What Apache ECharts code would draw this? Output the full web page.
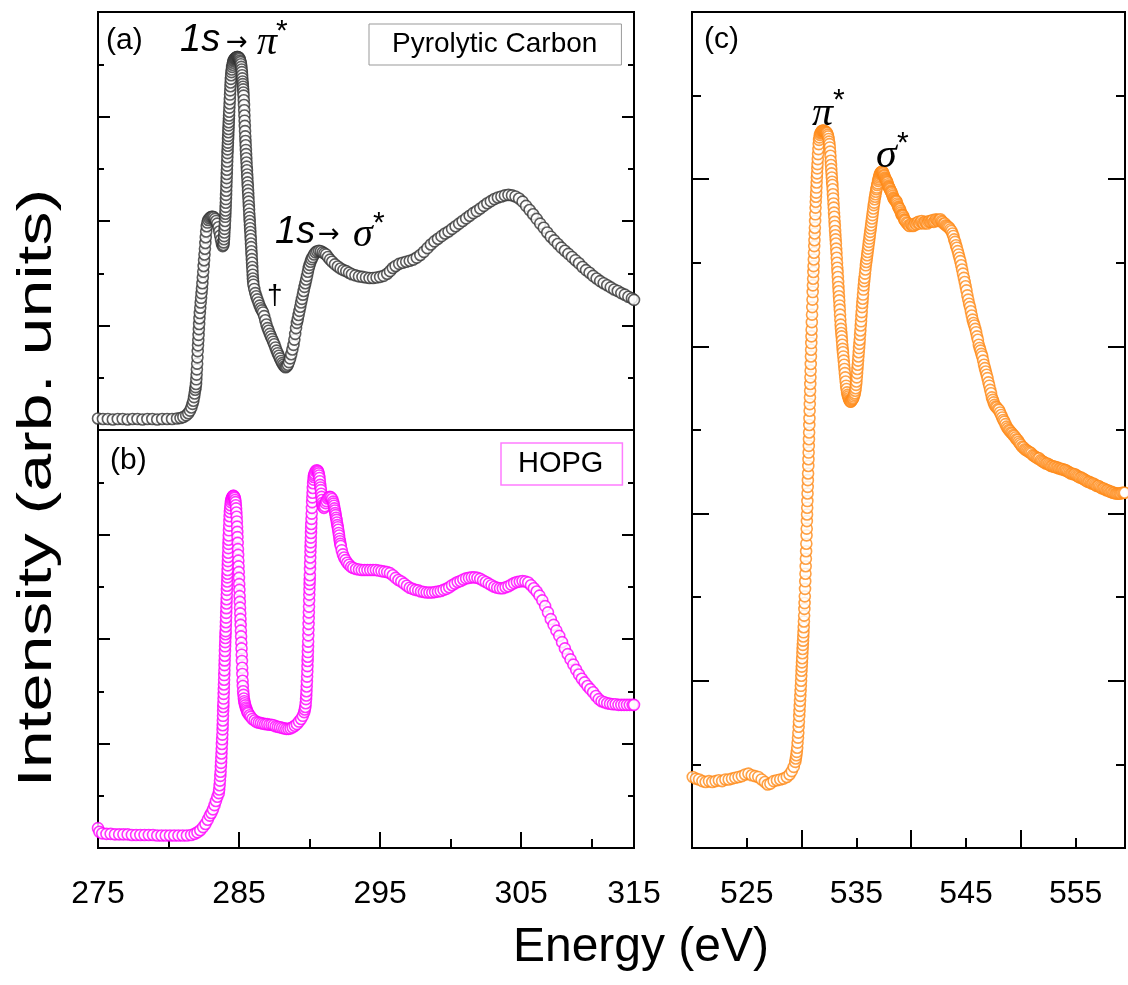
<!DOCTYPE html>
<html><head><meta charset="utf-8">
<script src="https://cdn.jsdelivr.net/npm/echarts@6/dist/echarts.min.js"></script>
<style>html,body{margin:0;padding:0;background:#fff}#c{width:1128px;height:985px}</style>
</head><body><div id="c"></div>
<script>
// ---- data: [energy (eV), intensity (arb. units)] ----
const pyrolyticCarbon = [
[275.00,0.22],[275.35,0.21],[275.70,0.21],[276.05,0.20],[276.40,0.21],[276.75,0.21],[277.10,0.20],[277.45,0.21],[277.80,0.21],[278.15,0.20],[278.50,0.21],[278.85,0.21],[279.20,0.20],[279.55,0.21],[279.90,0.21],[280.25,0.21],[280.60,0.22],[280.85,0.23],[281.05,0.25],[281.25,0.28],[281.40,0.32],[281.52,0.37],[281.62,0.43],[281.70,0.50],
[281.76,0.56],[281.81,0.63],[281.85,0.70],[281.89,0.77],[281.92,0.82],[281.95,0.88],[281.97,0.97],[281.99,1.06],[282.01,1.16],[282.03,1.27],[282.05,1.39],[282.07,1.51],[282.09,1.62],[282.11,1.72],[282.13,1.82],[282.15,1.93],[282.17,2.03],[282.19,2.14],[282.22,2.24],[282.25,2.34],[282.28,2.44],[282.31,2.53],[282.34,2.62],[282.37,2.71],[282.40,2.81],[282.43,2.92],[282.46,3.03],[282.49,3.14],[282.52,3.25],[282.55,3.36],[282.58,3.47],[282.61,3.58],[282.64,3.69],[282.67,3.80],[282.71,3.90],[282.76,3.97],[282.82,4.02],[282.90,4.05],[282.98,4.07],[283.06,4.08],[283.14,4.08],[283.22,4.07],[283.30,4.04],[283.38,4.00],[283.46,3.95],[283.54,3.88],[283.60,3.80],[283.66,3.72],[283.72,3.64],[283.78,3.57],[283.84,3.52],[283.89,3.54],
[283.91,3.59],[283.93,3.65],[283.945,3.71],[283.96,3.78],[283.975,3.85],[283.99,3.92],[284.005,4.00],[284.02,4.08],[284.03,4.14],[284.04,4.20],[284.05,4.27],[284.06,4.35],[284.07,4.42],[284.08,4.50],[284.09,4.58],[284.10,4.66],[284.11,4.74],[284.12,4.82],[284.13,4.90],[284.14,4.98],[284.15,5.06],[284.16,5.14],[284.17,5.22],[284.18,5.30],[284.19,5.37],[284.20,5.44],[284.21,5.50],[284.22,5.57],[284.23,5.63],[284.24,5.70],[284.25,5.76],[284.26,5.83],[284.27,5.89],[284.28,5.96],[284.29,6.02],[284.30,6.09],[284.315,6.17],[284.33,6.25],[284.345,6.33],[284.36,6.42],[284.375,6.50],[284.39,6.58],[284.405,6.65],[284.42,6.72],[284.44,6.79],[284.46,6.85],[284.485,6.90],[284.51,6.95],[284.54,6.99],[284.57,7.03],[284.60,7.06],[284.64,7.08],[284.68,7.10],[284.72,7.11],[284.76,7.12],[284.80,7.13],[284.84,7.14],[284.88,7.14],[284.92,7.14],[284.96,7.13],[285.00,7.12],[285.04,7.10],[285.075,7.07],[285.11,7.04],
[285.135,7.00],[285.16,6.95],[285.18,6.90],[285.20,6.85],[285.215,6.79],[285.23,6.73],[285.245,6.67],[285.26,6.62],[285.275,6.57],[285.29,6.52],[285.305,6.46],[285.32,6.40],[285.335,6.31],[285.35,6.22],[285.365,6.12],[285.38,6.02],[285.395,5.92],[285.41,5.82],[285.425,5.72],[285.44,5.62],[285.455,5.53],[285.47,5.45],[285.485,5.36],[285.50,5.28],[285.515,5.20],[285.53,5.12],[285.545,5.04],[285.56,4.97],[285.575,4.89],[285.59,4.82],[285.605,4.74],[285.62,4.67],[285.635,4.59],[285.65,4.52],[285.665,4.44],[285.68,4.37],[285.695,4.29],[285.71,4.22],[285.725,4.14],[285.74,4.07],[285.755,4.00],[285.77,3.93],[285.785,3.86],[285.80,3.79],[285.815,3.72],[285.83,3.65],[285.845,3.57],[285.86,3.50],[285.875,3.42],[285.89,3.35],[285.905,3.27],[285.92,3.20],[285.935,3.12],[285.95,3.05],[285.965,2.97],[285.98,2.90],[286.00,2.84],[286.02,2.78],[286.08,2.70],[286.15,2.62],[286.22,2.56],[286.30,2.50],[286.38,2.44],[286.46,2.38],[286.54,2.33],[286.62,2.29],[286.70,2.25],[286.78,2.18],[286.86,2.10],[286.94,2.02],[287.02,1.95],[287.10,1.90],[287.18,1.84],[287.26,1.79],[287.34,1.74],[287.42,1.69],[287.50,1.64],[287.58,1.58],[287.66,1.52],[287.74,1.47],[287.82,1.42],[287.90,1.37],[287.98,1.32],[288.06,1.28],[288.14,1.25],[288.22,1.22],[288.30,1.20],[288.38,1.22],[288.46,1.25],[288.54,1.30],[288.62,1.37],[288.70,1.45],[288.78,1.54],[288.86,1.63],[288.92,1.73],[288.98,1.84],[289.04,1.95],[289.10,2.05],[289.16,2.12],[289.22,2.20],[289.28,2.28],[289.34,2.36],[289.40,2.44],[289.46,2.51],[289.52,2.59],[289.58,2.66],[289.64,2.74],[289.70,2.81],[289.76,2.88],[289.82,2.95],[289.88,3.03],[289.94,3.10],[290.00,3.16],[290.07,3.22],[290.14,3.27],[290.22,3.31],[290.32,3.36],[290.42,3.40],[290.54,3.42],[290.67,3.43],[290.80,3.42],[290.93,3.40],[291.05,3.38],[291.17,3.36],[291.30,3.31],[291.45,3.26],[291.60,3.22],[291.80,3.17],[292.00,3.13],[292.20,3.09],[292.40,3.06],[292.60,3.04],[292.80,3.01],[293.00,2.98],[293.25,2.96],[293.50,2.94],[293.75,2.93],[294.00,2.92],[294.25,2.91],[294.50,2.91],[294.75,2.92],[295.00,2.93],[295.25,2.95],[295.50,2.99],[295.70,3.04],[295.90,3.10],[296.10,3.14],[296.35,3.18],[296.60,3.20],[296.85,3.22],[297.10,3.24],[297.35,3.26],[297.60,3.30],[297.85,3.35],[298.10,3.41],[298.35,3.48],[298.60,3.55],[298.85,3.61],[299.10,3.66],[299.35,3.71],[299.60,3.76],[299.85,3.80],[300.10,3.85],[300.35,3.90],[300.60,3.95],[300.85,4.00],[301.10,4.05],[301.35,4.10],[301.60,4.15],[301.85,4.19],[302.10,4.24],[302.35,4.29],[302.60,4.34],[302.85,4.38],[303.10,4.42],[303.35,4.45],[303.60,4.47],[303.85,4.49],[304.10,4.50],[304.35,4.49],[304.60,4.47],[304.85,4.43],[305.10,4.37],[305.35,4.29],[305.60,4.21],[305.85,4.13],[306.10,4.04],[306.35,3.95],[306.60,3.87],[306.85,3.78],[307.10,3.70],[307.35,3.63],[307.60,3.56],[307.85,3.49],[308.10,3.43],[308.35,3.37],[308.60,3.31],[308.85,3.25],[309.10,3.19],[309.35,3.12],[309.60,3.06],[309.85,3.01],[310.10,2.95],[310.35,2.90],[310.60,2.85],[310.85,2.81],[311.10,2.77],[311.35,2.73],[311.60,2.69],[311.85,2.66],[312.10,2.62],[312.35,2.59],[312.60,2.55],[312.85,2.52],[313.00,2.49]
];
const hopg = [
[275.00,0.38],[275.10,0.31],[275.30,0.28],[275.60,0.27],[275.90,0.27],[276.20,0.26],[276.50,0.26],[276.80,0.26],[277.10,0.26],[277.40,0.25],[277.70,0.25],[278.00,0.25],[278.30,0.25],[278.60,0.25],[278.90,0.25],[279.20,0.24],[279.50,0.24],[279.80,0.24],[280.10,0.24],[280.40,0.24],[280.70,0.24],[281.00,0.24],[281.30,0.24],[281.60,0.25],[281.85,0.27],[282.05,0.30],[282.25,0.34],[282.45,0.40],[282.62,0.46],[282.78,0.54],[282.92,0.62],[283.04,0.67],[283.15,0.74],[283.26,0.82],[283.36,0.90],[283.46,0.98],[283.56,1.05],
[283.59,1.12],[283.62,1.20],[283.645,1.29],[283.67,1.38],[283.69,1.46],[283.71,1.55],[283.725,1.63],[283.74,1.72],[283.755,1.81],[283.77,1.90],[283.785,1.99],[283.80,2.08],[283.815,2.17],[283.83,2.27],[283.84,2.35],[283.85,2.44],[283.86,2.53],[283.87,2.62],[283.88,2.70],[283.89,2.77],[283.90,2.86],[283.91,2.95],[283.92,3.04],[283.93,3.13],[283.94,3.22],[283.95,3.31],[283.96,3.40],[283.97,3.50],[283.98,3.59],[283.99,3.68],[284.00,3.77],[284.01,3.86],[284.02,3.94],[284.03,4.02],[284.04,4.09],[284.05,4.15],[284.06,4.24],[284.07,4.32],[284.08,4.41],[284.09,4.50],[284.10,4.59],[284.11,4.68],[284.12,4.76],[284.13,4.85],[284.14,4.94],[284.15,5.02],[284.16,5.10],[284.17,5.18],[284.18,5.25],[284.19,5.32],[284.20,5.41],[284.21,5.49],[284.22,5.57],[284.23,5.65],[284.24,5.74],[284.25,5.82],[284.26,5.90],[284.27,5.98],[284.285,6.08],[284.30,6.17],[284.315,6.26],[284.33,6.35],[284.35,6.43],[284.37,6.50],[284.395,6.56],[284.42,6.62],[284.45,6.66],[284.48,6.69],[284.515,6.71],[284.55,6.73],[284.585,6.74],[284.62,6.74],[284.655,6.72],[284.69,6.70],[284.72,6.66],[284.75,6.62],
[284.77,6.56],[284.79,6.50],[284.81,6.42],[284.83,6.34],[284.845,6.25],[284.86,6.15],[284.875,6.05],[284.89,5.95],[284.905,5.84],[284.92,5.72],[284.935,5.61],[284.95,5.50],[284.965,5.39],[284.98,5.28],[284.995,5.17],[285.01,5.05],[285.025,4.94],[285.04,4.82],[285.055,4.71],[285.07,4.60],[285.085,4.49],[285.10,4.38],[285.115,4.27],[285.13,4.16],[285.145,4.05],[285.16,3.93],[285.175,3.82],[285.19,3.70],[285.205,3.58],[285.22,3.45],[285.235,3.33],[285.25,3.20],[285.27,3.10],[285.29,3.00],[285.315,2.93],[285.34,2.86],[285.37,2.81],[285.40,2.77],[285.44,2.73],[285.48,2.69],[285.52,2.66],[285.56,2.63],[285.60,2.60],[285.65,2.58],[285.74,2.54],[285.83,2.51],[285.95,2.47],[286.10,2.44],[286.25,2.41],[286.40,2.40],[286.55,2.39],[286.70,2.38],[286.85,2.37],[287.00,2.37],[287.15,2.36],[287.30,2.36],[287.45,2.35],[287.60,2.33],[287.75,2.32],[287.90,2.31],[288.05,2.30],[288.20,2.29],[288.35,2.28],[288.50,2.28],[288.65,2.29],[288.80,2.31],[288.95,2.34],[289.10,2.37],[289.25,2.42],[289.40,2.47],[289.52,2.53],[289.62,2.60],[289.66,2.65],[289.70,2.70],
[289.725,2.77],[289.75,2.85],[289.765,2.92],[289.78,3.00],[289.795,3.09],[289.81,3.18],[289.825,3.28],[289.84,3.38],[289.85,3.48],[289.86,3.58],[289.87,3.66],[289.88,3.75],[289.89,3.85],[289.90,3.95],[289.91,4.07],[289.92,4.18],[289.93,4.29],[289.94,4.40],[289.95,4.51],[289.96,4.62],[289.97,4.74],[289.98,4.85],[289.99,4.95],[290.00,5.05],[290.01,5.13],[290.02,5.22],[290.03,5.34],[290.04,5.45],[290.05,5.56],[290.06,5.67],[290.07,5.76],[290.08,5.85],[290.09,5.94],[290.10,6.03],[290.11,6.12],[290.12,6.20],[290.135,6.30],[290.15,6.40],[290.165,6.51],[290.18,6.62],[290.195,6.71],[290.21,6.80],[290.23,6.89],[290.25,6.98],[290.275,7.05],[290.30,7.10],[290.33,7.14],[290.36,7.17],[290.43,7.21],[290.50,7.23],[290.57,7.22],[290.61,7.20],[290.64,7.17],[290.67,7.13],[290.70,7.08],[290.725,7.02],[290.75,6.95],[290.775,6.90],[290.80,6.85],[290.825,6.78],[290.85,6.72],[290.875,6.66],[290.90,6.60],[290.93,6.56],[290.96,6.53],[291.02,6.51],[291.08,6.54],[291.14,6.60],[291.20,6.64],[291.28,6.69],[291.36,6.71],[291.44,6.72],[291.52,6.71],[291.60,6.68],[291.67,6.63],[291.70,6.59],[291.73,6.55],[291.76,6.50],[291.79,6.46],[291.82,6.41],[291.85,6.37],[291.88,6.32],[291.91,6.28],[291.94,6.23],[291.97,6.18],[292.00,6.14],[292.03,6.09],[292.06,6.03],[292.09,5.98],[292.12,5.92],[292.15,5.87],[292.18,5.82],[292.21,5.78],[292.28,5.70],[292.36,5.62],[292.45,5.56],[292.55,5.51],[292.67,5.46],[292.80,5.42],[292.95,5.38],[293.10,5.36],[293.30,5.34],[293.50,5.33],[293.70,5.32],[293.90,5.32],[294.10,5.32],[294.30,5.32],[294.50,5.32],[294.70,5.32],[294.90,5.31],[295.10,5.30],[295.30,5.29],[295.50,5.28],[295.70,5.26],[295.90,5.22],[296.10,5.17],[296.30,5.13],[296.50,5.10],[296.70,5.06],[296.90,5.02],[297.10,4.98],[297.30,4.96],[297.50,4.94],[297.70,4.93],[297.90,4.91],[298.10,4.90],[298.30,4.89],[298.50,4.89],[298.70,4.89],[298.90,4.90],[299.10,4.91],[299.30,4.92],[299.50,4.94],[299.70,4.96],[299.90,4.99],[300.10,5.03],[300.30,5.06],[300.50,5.09],[300.70,5.11],[300.90,5.14],[301.10,5.16],[301.30,5.17],[301.50,5.18],[301.70,5.18],[301.90,5.17],[302.10,5.15],[302.30,5.12],[302.50,5.09],[302.70,5.06],[302.90,5.03],[303.10,5.00],[303.30,4.98],[303.50,4.97],[303.70,4.97],[303.90,4.99],[304.10,5.01],[304.30,5.04],[304.50,5.07],[304.70,5.09],[304.90,5.10],[305.10,5.11],[305.30,5.10],[305.50,5.08],[305.70,5.03],[305.90,4.97],[306.10,4.91],[306.30,4.83],[306.50,4.74],[306.70,4.63],[306.90,4.51],[307.10,4.38],[307.30,4.27],[307.50,4.16],[307.70,4.06],[307.90,3.94],[308.10,3.82],[308.30,3.71],[308.50,3.61],[308.70,3.51],[308.90,3.41],[309.10,3.32],[309.30,3.24],[309.50,3.17],[309.70,3.10],[309.90,3.04],[310.10,2.98],[310.30,2.91],[310.50,2.85],[310.70,2.81],[310.90,2.79],[311.10,2.77],[311.30,2.76],[311.50,2.75],[311.70,2.75],[311.90,2.74],[312.10,2.74],[312.30,2.74],[312.50,2.74],[312.70,2.74],[312.90,2.74],[313.00,2.74]
];
const oxygenK = [
[520.07,0.85],[520.35,0.83],[520.65,0.82],[520.95,0.80],[521.25,0.79],[521.55,0.80],[521.85,0.79],[522.15,0.80],[522.45,0.81],[522.75,0.80],[523.05,0.82],[523.35,0.82],[523.65,0.83],[523.95,0.84],[524.25,0.85],[524.55,0.86],[524.85,0.88],[525.15,0.89],[525.45,0.87],[525.75,0.86],[526.05,0.85],[526.35,0.82],[526.65,0.79],[526.90,0.76],[527.15,0.77],[527.45,0.80],[527.75,0.81],[528.05,0.82],[528.35,0.83],[528.65,0.85],[528.90,0.88],[529.10,0.92],[529.28,0.97],
[529.42,1.03],[529.47,1.07],[529.52,1.11],[529.56,1.15],[529.60,1.20],[529.63,1.26],[529.67,1.32],[529.70,1.38],[529.73,1.45],[529.755,1.51],[529.78,1.58],[529.805,1.64],[529.83,1.70],[529.855,1.76],[529.88,1.82],[529.905,1.88],[529.93,1.94],[529.95,2.00],[529.97,2.06],[529.99,2.12],[530.01,2.17],[530.03,2.22],[530.05,2.27],[530.07,2.33],[530.09,2.38],[530.11,2.43],[530.13,2.48],[530.15,2.53],[530.17,2.58],[530.19,2.64],[530.21,2.71],[530.23,2.78],[530.25,2.86],[530.27,2.93],[530.29,3.01],[530.31,3.10],[530.33,3.19],[530.35,3.28],[530.37,3.37],[530.39,3.46],[530.41,3.55],[530.43,3.64],[530.45,3.74],[530.465,3.82],[530.48,3.91],[530.495,3.99],[530.51,4.07],[530.525,4.15],[530.54,4.24],[530.555,4.32],[530.57,4.40],[530.59,4.48],[530.61,4.57],[530.625,4.65],[530.64,4.73],[530.655,4.81],[530.67,4.89],[530.685,4.97],[530.70,5.06],[530.715,5.14],[530.73,5.23],[530.745,5.31],[530.76,5.39],[530.775,5.47],[530.79,5.55],[530.805,5.63],[530.82,5.71],[530.835,5.79],[530.85,5.88],[530.865,5.96],[530.88,6.04],[530.895,6.12],[530.91,6.20],[530.93,6.29],[530.95,6.38],[530.97,6.47],[530.99,6.56],[531.01,6.65],[531.03,6.73],[531.05,6.81],[531.07,6.89],[531.09,6.96],[531.11,7.04],[531.13,7.12],[531.15,7.20],[531.17,7.27],[531.19,7.35],[531.21,7.42],[531.23,7.50],[531.25,7.58],[531.27,7.66],[531.29,7.73],[531.31,7.79],[531.33,7.84],[531.35,7.90],[531.37,7.96],[531.39,8.02],[531.41,8.07],[531.43,8.13],[531.45,8.18],[531.475,8.24],[531.50,8.30],[531.53,8.36],[531.56,8.42],[531.595,8.47],[531.63,8.50],[531.67,8.53],[531.72,8.55],[531.77,8.56],[531.82,8.57],[531.87,8.58],[531.92,8.58],[531.97,8.58],[532.02,8.58],[532.07,8.58],[532.12,8.57],[532.17,8.57],[532.22,8.56],[532.27,8.56],[532.32,8.55],[532.37,8.53],[532.42,8.51],
[532.46,8.48],[532.50,8.45],[532.535,8.42],[532.57,8.38],[532.60,8.33],[532.63,8.28],[532.655,8.22],[532.68,8.17],[532.705,8.12],[532.73,8.07],[532.755,8.02],[532.78,7.97],[532.805,7.93],[532.83,7.88],[532.855,7.82],[532.88,7.77],[532.905,7.71],[532.93,7.66],[532.955,7.60],[532.98,7.55],[533.005,7.49],[533.03,7.44],[533.055,7.38],[533.08,7.33],[533.105,7.28],[533.13,7.23],[533.155,7.17],[533.18,7.12],[533.205,7.06],[533.23,7.00],[533.255,6.94],[533.28,6.89],[533.305,6.83],[533.33,6.77],[533.355,6.71],[533.38,6.66],[533.405,6.60],[533.43,6.55],[533.455,6.49],[533.48,6.44],[533.505,6.38],[533.53,6.32],[533.56,6.26],[533.59,6.21],[533.62,6.16],[533.65,6.12],[533.68,6.07],[533.71,6.02],[533.74,5.97],[533.77,5.93],[533.805,5.88],[533.84,5.83],[533.875,5.78],[533.91,5.73],[533.945,5.68],[533.98,5.63],[534.02,5.58],[534.06,5.53],[534.10,5.49],[534.15,5.45],[534.20,5.42],[534.25,5.40],[534.30,5.38],[534.35,5.36],[534.40,5.35],[534.45,5.34],[534.50,5.34],[534.55,5.35],[534.60,5.36],[534.65,5.37],[534.70,5.38],[534.75,5.40],[534.80,5.42],[534.85,5.44],
[534.89,5.47],[534.93,5.50],[534.965,5.54],[535.00,5.58],[535.03,5.63],[535.06,5.68],[535.09,5.73],[535.12,5.78],[535.15,5.83],[535.18,5.88],[535.21,5.93],[535.24,5.98],[535.27,6.03],[535.30,6.08],[535.33,6.14],[535.36,6.19],[535.39,6.25],[535.42,6.30],[535.45,6.36],[535.48,6.41],[535.51,6.47],[535.54,6.52],[535.57,6.57],[535.60,6.62],[535.635,6.68],[535.67,6.73],[535.705,6.78],[535.74,6.82],[535.78,6.87],[535.82,6.92],[535.86,6.97],[535.90,7.01],[535.94,7.05],[535.98,7.09],[536.02,7.13],[536.06,7.17],[536.10,7.21],[536.14,7.25],[536.18,7.29],[536.22,7.33],[536.26,7.37],[536.30,7.41],[536.34,7.45],[536.38,7.49],[536.42,7.53],[536.46,7.57],[536.50,7.61],[536.54,7.65],[536.58,7.69],[536.62,7.72],[536.66,7.76],[536.70,7.79],[536.74,7.82],[536.78,7.85],[536.82,7.88],[536.86,7.90],[536.90,7.93],[536.94,7.95],[536.98,7.98],[537.02,8.00],[537.06,8.02],[537.10,8.04],[537.14,8.06],[537.18,8.07],[537.22,8.08],[537.26,8.08],[537.30,8.09],[537.34,8.09],[537.38,8.09],[537.42,8.08],[537.46,8.07],[537.50,8.05],[537.54,8.04],[537.58,8.02],[537.62,8.01],[537.66,8.00],[537.70,7.99],[537.74,7.98],[537.78,7.97],[537.82,7.96],[537.86,7.94],[537.90,7.92],[537.94,7.91],[537.98,7.90],[538.02,7.89],[538.06,7.88],[538.11,7.86],[538.16,7.85],[538.21,7.84],[538.26,7.82],[538.31,7.80],[538.36,7.78],[538.41,7.77],[538.46,7.76],[538.51,7.75],[538.56,7.74],[538.61,7.74],[538.66,7.73],[538.71,7.71],[538.76,7.69],[538.81,7.67],[538.86,7.66],[538.91,7.65],[538.96,7.64],[539.01,7.62],[539.06,7.60],[539.11,7.58],[539.16,7.57],[539.21,7.57],[539.26,7.56],[539.31,7.54],[539.36,7.52],[539.41,7.51],[539.46,7.50],[539.56,7.48],[539.66,7.47],[539.76,7.45],[539.86,7.44],[539.96,7.46],[540.06,7.45],[540.16,7.44],[540.26,7.45],[540.36,7.47],[540.46,7.46],[540.56,7.48],[540.66,7.49],[540.76,7.47],[540.86,7.49],[540.96,7.50],[541.06,7.48],[541.16,7.47],[541.26,7.49],[541.36,7.48],[541.46,7.47],[541.56,7.49],[541.66,7.50],[541.76,7.49],[541.86,7.50],[541.96,7.51],[542.06,7.49],[542.16,7.50],[542.26,7.52],[542.36,7.51],[542.46,7.50],[542.56,7.51],[542.66,7.52],[542.76,7.50],[542.86,7.49],[542.96,7.47],[543.06,7.47],[543.16,7.45],[543.26,7.44],[543.36,7.43],[543.46,7.42],[543.56,7.40],[543.66,7.38],[543.76,7.35],[543.84,7.32],[543.92,7.28],[544.00,7.25],[544.08,7.21],[544.16,7.18],[544.24,7.14],[544.32,7.10],[544.40,7.06],[544.48,7.02],[544.56,6.97],[544.64,6.92],[544.72,6.87],[544.80,6.82],[544.88,6.77],[544.96,6.72],[545.04,6.67],[545.12,6.61],[545.20,6.56],[545.28,6.51],[545.36,6.47],[545.44,6.42],[545.52,6.37],[545.60,6.32],[545.68,6.28],[545.76,6.25],[545.84,6.21],[545.92,6.17],[546.00,6.12],[546.08,6.08],[546.16,6.02],[546.24,5.98],[546.32,5.95],[546.40,5.91],[546.48,5.88],[546.56,5.83],[546.64,5.78],[546.72,5.74],[546.80,5.70],[546.88,5.66],[546.96,5.62],[547.04,5.57],[547.12,5.53],[547.20,5.48],[547.28,5.44],[547.36,5.39],[547.44,5.36],[547.52,5.33],[547.60,5.30],[547.70,5.28],[547.80,5.27],[547.90,5.25],[548.00,5.24],[548.10,5.21],[548.20,5.18],[548.30,5.15],[548.40,5.12],[548.50,5.10],[548.60,5.07],[548.70,5.04],[548.80,5.02],[548.90,5.00],[549.00,4.99],[549.10,4.97],[549.20,4.96],[549.30,4.94],[549.40,4.93],[549.50,4.91],[549.60,4.89],[549.70,4.88],[549.80,4.86],[549.90,4.84],[550.00,4.82],[550.12,4.80],[550.24,4.79],[550.36,4.77],[550.48,4.76],[550.60,4.75],[550.72,4.74],[550.84,4.73],[550.96,4.72],[551.08,4.70],[551.20,4.69],[551.32,4.68],[551.44,4.67],[551.56,4.66],[551.68,4.66],[551.80,4.64],[551.92,4.63],[552.04,4.62],[552.16,4.61],[552.28,4.60],[552.40,4.60],[552.52,4.59],[552.64,4.58],[552.76,4.57],[552.88,4.57],[553.00,4.56],[553.12,4.56],[553.24,4.55],[553.36,4.55],[553.48,4.54],[553.60,4.54],[553.72,4.53],[553.84,4.53],[553.96,4.52],[554.08,4.52],[554.20,4.51],[554.32,4.50],[554.44,4.49],[554.56,4.48],[554.68,4.48],[554.80,4.47],[554.92,4.47],[555.04,4.46],[555.16,4.45],[555.28,4.44],[555.40,4.43],[555.52,4.43],[555.64,4.42],[555.76,4.41],[555.88,4.40],[556.00,4.39],[556.12,4.38],[556.24,4.38],[556.36,4.37],[556.48,4.36],[556.60,4.36],[556.72,4.35],[556.84,4.34],[556.96,4.33],[557.08,4.33],[557.20,4.32],[557.32,4.31],[557.44,4.30],[557.56,4.30],[557.68,4.29],[557.80,4.28],[557.92,4.28],[558.04,4.27],[558.16,4.26],[558.28,4.26],[558.40,4.25],[558.52,4.25],[558.64,4.24],[558.76,4.24],[558.88,4.24],[559.00,4.24],[559.12,4.24],[559.24,4.25],[559.36,4.25],[559.48,4.25]
];
// tick labels
const carbonTickLabels = [275, 285, 295, 305];
const carbonEndLabel = '315';
const oxygenTickLabels = [525, 535, 545, 555];

const BLACK = '#000';
const sans = "'Liberation Sans', Arial, sans-serif";
const serif = "'Liberation Serif', 'Times New Roman', serif";

function yAx(gridIndex, position, max, majorLen, minorLen) {
  return { type: 'value', gridIndex, position, min: 0, max, interval: 2,
    axisLine: { show: false }, axisLabel: { show: false }, splitLine: { show: false },
    axisTick: { show: true, inside: true, length: majorLen, lineStyle: { color: BLACK, width: 2 } },
    minorTick: { show: true, splitNumber: 2, length: minorLen, lineStyle: { color: BLACK, width: 2 } } };
}
function xAx(gridIndex, min, max, interval, len, label) {
  return { type: 'value', gridIndex, position: 'bottom', min, max, interval,
    axisLine: { show: false }, splitLine: { show: false },
    axisTick: { show: true, inside: true, length: len, lineStyle: { color: BLACK, width: 2 } },
    axisLabel: label ? Object.assign({ show: true, color: BLACK, fontFamily: sans, fontSize: 32, margin: 30 }, label) : { show: false } };
}
function txt(x, y, text, size, family, style, extra) {
  return Object.assign({ type: 'text', x, y, z: 100,
    style: { text, fontSize: size, fontFamily: family, fontStyle: style || 'normal', fill: BLACK, align: 'left', verticalAlign: 'middle' } }, extra || {});
}

const gridStyle = { show: true, borderColor: BLACK, borderWidth: 2, backgroundColor: 'transparent' };
const chart = echarts.init(document.getElementById('c'));
chart.setOption({
  animation: false,
  backgroundColor: '#fff',
  grid: [
    Object.assign({ left: 98, top: 12, width: 536, height: 418 }, gridStyle),
    Object.assign({ left: 98, top: 430, width: 536, height: 418 }, gridStyle),
    Object.assign({ left: 692, top: 12, width: 435, height: 836 }, gridStyle)
  ],
  xAxis: [
    { type: 'value', gridIndex: 0, min: 275, max: 313, show: false },
    xAx(1, 275, 313, 5, 9, null),
    Object.assign(xAx(1, 275, 313, 10, 16, { formatter: v => carbonTickLabels.includes(v) ? String(v) : '' }), {
      name: carbonEndLabel, nameLocation: 'end', nameGap: 0,
      nameTextStyle: { color: BLACK, fontFamily: sans, fontSize: 32, align: 'center', verticalAlign: 'top', padding: [30, 0, 0, 0] } }),
    xAx(2, 520, 559.5, 5, 10, { formatter: v => oxygenTickLabels.includes(v) ? String(v) : '' }),
    xAx(2, 520, 559.5, 10, 18, null)
  ],
  yAxis: [
    yAx(0, 'left', 8, 12, 6), yAx(0, 'right', 8, 12, 6),
    yAx(1, 'left', 8, 12, 6), yAx(1, 'right', 8, 12, 6),
    yAx(2, 'left', 10, 17, 9), yAx(2, 'right', 10, 17, 9)
  ],
  legend: [
    { data: ['Pyrolytic Carbon'], left: 369, top: 24, icon: 'none', itemWidth: 0, itemHeight: 0, selectedMode: false,
      borderColor: '#999', borderWidth: 1, padding: [6, 24, 7, 18],
      textStyle: { fontSize: 28, fontFamily: sans, color: BLACK } },
    { data: ['HOPG'], left: 501, top: 443, icon: 'none', itemWidth: 0, itemHeight: 0, selectedMode: false,
      borderColor: '#ff7cff', borderWidth: 1.5, padding: [6, 19, 7, 12],
      textStyle: { fontSize: 29, fontFamily: sans, color: BLACK } }
  ],
  series: [
    { type: 'scatter', name: 'Pyrolytic Carbon', xAxisIndex: 0, yAxisIndex: 0, data: pyrolyticCarbon,
      symbol: 'circle', symbolSize: 11, itemStyle: { color: '#fff', borderColor: '#333', borderWidth: 1.6 } },
    { type: 'scatter', name: 'HOPG', xAxisIndex: 1, yAxisIndex: 2, data: hopg,
      symbol: 'circle', symbolSize: 11, itemStyle: { color: '#fff', borderColor: '#ff00ff', borderWidth: 1.6 } },
    { type: 'scatter', name: 'O K-edge', xAxisIndex: 3, yAxisIndex: 4, data: oxygenK,
      symbol: 'circle', symbolSize: 11, itemStyle: { color: '#fff', borderColor: '#ff8a17', borderWidth: 1.6 } }
  ],
  graphic: [
    txt(106, 41, '(a)', 30, sans),
    txt(180, 40, '1s', 38, sans, 'italic'),
    txt(226, 43, '\u2192', 26, 'DejaVu Sans', 'normal', {}),
    txt(257, 43, '\u03c0', 40, serif, 'italic'),
    txt(276, 32, '*', 30, sans),
    txt(275, 232, '1s', 38, sans, 'italic'),
    txt(318, 235, '\u2192', 26, 'DejaVu Sans'),
    txt(353, 235, '\u03c3', 40, serif, 'italic'),
    txt(373, 224, '*', 30, sans),
    txt(267, 296, '\u2020', 28, sans),
    txt(110, 461, '(b)', 30, sans),
    txt(704, 40, '(c)', 30, sans),
    txt(812, 114, '\u03c0', 42, serif, 'italic'),
    txt(833, 101, '*', 30, sans),
    txt(876, 156, '\u03c3', 42, serif, 'italic'),
    txt(897, 144, '*', 30, sans),
    { type: 'text', x: 641, y: 948, z: 100, style: { text: 'Energy (eV)', fontSize: 48, fontFamily: sans, fill: BLACK, align: 'center', verticalAlign: 'middle' } },
    { type: 'text', x: 38, y: 488, z: 100, rotation: Math.PI / 2, scaleX: 1.42, style: { text: 'Intensity (arb. units)', fontSize: 48, fontFamily: sans, fill: BLACK, align: 'center', verticalAlign: 'middle' } }
  ]
});
</script></body></html>
